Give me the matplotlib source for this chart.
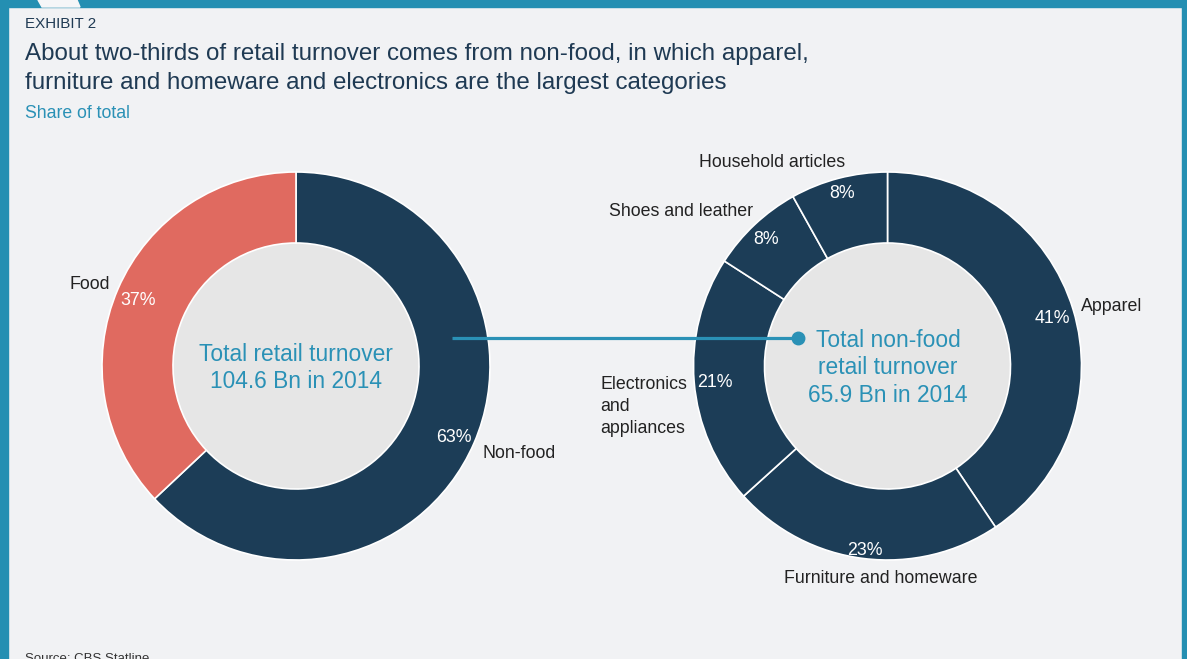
import matplotlib
matplotlib.use('Agg')
import numpy as np
import matplotlib.pyplot as plt
from matplotlib.patches import Rectangle, Circle, Polygon

plt.rcParams['font.family'] = ['Liberation Sans', 'DejaVu Sans']

total_labels = ['Non-food', 'Food']
total_shares = [63, 37]
nonfood_labels = ['Apparel', 'Furniture and homeware', 'Electronics\nand\nappliances',
                  'Shoes and leather', 'Household articles']
nonfood_shares = [40.6, 22.7, 20.8, 7.8, 8.1]

navy = '#1C3D57'
salmon = '#E06A60'
teal = '#2A91B6'
border = '#248FB2'
bg = '#F1F2F4'
inner = '#E6E6E6'

W, H = 1187, 659
fig = plt.figure(figsize=(W / 100, H / 100), dpi=100, facecolor=bg)
ax = fig.add_axes([0, 0, 1, 1])

R = 194
RIN = 123
donuts = []

# small hand nudges for the outside labels (pixels: right, up)
nudge = {'Non-food': (-1, -6), 'Food': (2, 0), 'Household articles': (9, 5),
         'Shoes and leather': (6, 5), 'Apparel': (-2, 0)}


def donut(cx, cy, shares, labels, colors):
    wedges, texts, autotexts = ax.pie(
        shares, labels=labels, colors=colors, startangle=90, counterclock=False,
        center=(cx, H - cy), radius=R, autopct='%.0f%%', pctdistance=0.89,
        labeldistance=1.055, wedgeprops=dict(width=R - RIN, linewidth=1.2, edgecolor='white'),
        textprops=dict(fontsize=12.8, color='#222222'))
    for t in autotexts:
        t.set_color('white')
        t.set_va('baseline')
    for t in texts:
        x, y = t.get_position()
        t.set_ha('right' if x < cx else 'left')
        dx, dy = nudge.get(t.get_text(), (0, 0))
        t.set_position((x + dx, y + dy))
    ax.add_patch(Circle((cx, H - cy), RIN, facecolor=inner, edgecolor='none', zorder=0.5))
    donuts.append((cx, H - cy, wedges, autotexts))
    return texts


donut(296, 366, total_shares, total_labels, [navy, salmon])
texts = donut(887.5, 366, nonfood_shares, nonfood_labels, [navy] * 5)

# electronics label: block hangs down from the first line
x, y = texts[2].get_position()
texts[2].set_position((x + 4, y + 7))
texts[2].set_va('top')
texts[2].set_multialignment('left')
texts[2].set_linespacing(1.38)
# furniture label centred below ring
texts[1].set_position((881, H - 570))
texts[1].set_ha('center')
texts[1].set_va('top')

# connector
ax.plot([452, 798], [H - 338, H - 338], color=teal, lw=2.3, zorder=5, solid_capstyle='butt')
ax.plot([798], [H - 338], 'o', ms=9, color=teal, zorder=6)

ax.text(296, H - 368, 'Total retail turnover\n104.6 Bn in 2014', ha='center', va='center',
        fontsize=16.4, color=teal, linespacing=1.26, zorder=6)
ax.text(888, H - 368, 'Total non-food\nretail turnover\n65.9 Bn in 2014', ha='center',
        va='center', fontsize=16.4, color=teal, linespacing=1.26, zorder=6)

# header
ax.text(25, H - 28, 'EXHIBIT 2', fontsize=10.9, color='#1F3A53', va='baseline')
ax.text(25, H - 60, 'About two-thirds of retail turnover comes from non-food, in which apparel,',
        fontsize=17.4, color='#1F3A53', va='baseline')
ax.text(25, H - 89, 'furniture and homeware and electronics are the largest categories',
        fontsize=17.4, color='#1F3A53', va='baseline')
ax.text(25, H - 118, 'Share of total', fontsize=12.7, color=teal, va='baseline')
ax.text(25, H - 662, 'Source: CBS Statline', fontsize=9.5, color='#333333', va='baseline')

# frame
ax.add_patch(Rectangle((0, 0), 8, H, color=border, zorder=10))
ax.add_patch(Rectangle((0, H - 7), W, 7, color=border, zorder=10))
ax.add_patch(Rectangle((1182, 0), 5, H, color=border, zorder=10))
ax.add_patch(Polygon([(38, H), (77, H), (80, H - 7), (42, H - 7)], color='#F5F6F8', zorder=11))

ax.set_xlim(0, W)
ax.set_ylim(0, H)
ax.set_aspect('auto')
ax.axis('off')

# percentage labels tucked against the outer edge of the ring
fig.canvas.draw()
rend = fig.canvas.get_renderer()
cap = 0.716 * 12.8 * 100 / 72
for cx, cy, wedges, autotexts in donuts:
    for t, w in zip(autotexts, wedges):
        ang = np.deg2rad((w.theta1 + w.theta2) / 2)
        ux, uy = np.cos(ang), np.sin(ang)
        bb = t.get_window_extent(rend)
        d = 191 - (bb.width / 2 * abs(ux) + cap / 2 * abs(uy))
        t.set_position((cx + d * ux, cy + d * uy - cap / 2 - 1))

fig.savefig('out.png', dpi=100, facecolor=bg)
